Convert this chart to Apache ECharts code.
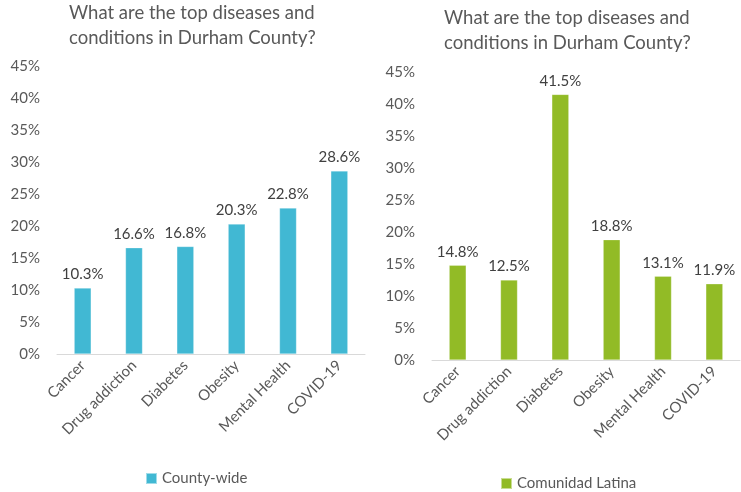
<!DOCTYPE html>
<html>
<head>
<meta charset="utf-8">
<script src="https://cdn.jsdelivr.net/npm/echarts@6/dist/echarts.min.js"></script>
<style>
  html, body { margin: 0; padding: 0; background: #fff; }
  #chart { width: 741px; height: 492px; }
</style>
</head>
<body>
<div id="chart"></div>
<script>
var categories = ['Cancer', 'Drug addiction', 'Diabetes', 'Obesity', 'Mental Health', 'COVID-19'];
var countyWide = [10.3, 16.6, 16.8, 20.3, 22.8, 28.6];
var latina = [14.8, 12.5, 41.5, 18.8, 13.1, 11.9];
var titleText = 'What are the top diseases and\nconditions in Durham County?';

var FONT = 'Lato';
var GREY = '#595959';

function xAxisFor(idx) {
    return {
        type: 'category',
        gridIndex: idx,
        data: categories,
        axisLine: { lineStyle: { color: '#d9d9d9', width: 1 } },
        axisTick: { show: false },
        axisLabel: { rotate: 45, margin: 9, color: GREY, fontFamily: FONT, fontSize: 15 }
    };
}
function yAxisFor(idx) {
    return {
        type: 'value',
        gridIndex: idx,
        min: 0, max: 45, interval: 5,
        axisLine: { show: false },
        axisTick: { show: false },
        splitLine: { show: false },
        axisLabel: { formatter: '{value}%', color: GREY, fontFamily: FONT, fontSize: 15, margin: 17 }
    };
}
function barSeries(name, idx, data, color) {
    return {
        name: name,
        type: 'bar',
        xAxisIndex: idx,
        yAxisIndex: idx,
        data: data,
        barWidth: 17,
        itemStyle: { color: color, borderColor: 'rgba(255,255,255,0.5)', borderWidth: 0.5 },
        label: {
            show: true,
            position: 'top',
            distance: 6,
            formatter: function (p) { return p.value.toFixed(1) + '%'; },
            color: '#404040', fontFamily: FONT, fontSize: 15
        }
    };
}

var option = {
    animation: false,
    title: [{
        text: titleText, left: 64, top: -4,
        textStyle: { color: GREY, fontFamily: FONT, fontSize: 18.5, fontWeight: 'normal', lineHeight: 25 }
    }, {
        text: titleText, left: 439, top: 1,
        textStyle: { color: GREY, fontFamily: FONT, fontSize: 18.5, fontWeight: 'normal', lineHeight: 25 }
    }],
    legend: [{
        data: ['County-wide'], left: 140, top: 466,
        itemWidth: 11, itemHeight: 11, itemGap: 4,
        icon: 'rect',
        textStyle: { color: GREY, fontFamily: FONT, fontSize: 15 }
    }, {
        data: ['Comunidad Latina'], left: 495, top: 471,
        itemWidth: 11, itemHeight: 11, itemGap: 4,
        icon: 'rect',
        textStyle: { color: GREY, fontFamily: FONT, fontSize: 15 }
    }],
    grid: [
        { left: 57, width: 308, top: 66, height: 288 },
        { left: 432, width: 308, top: 72, height: 288 }
    ],
    xAxis: [xAxisFor(0), xAxisFor(1)],
    yAxis: [yAxisFor(0), yAxisFor(1)],
    series: [
        barSeries('County-wide', 0, countyWide, '#41b8d3'),
        barSeries('Comunidad Latina', 1, latina, '#92bb26')
    ]
};

var echart = echarts.init(document.getElementById('chart'));
echart.setOption(option, true);
</script>
</body>
</html>
